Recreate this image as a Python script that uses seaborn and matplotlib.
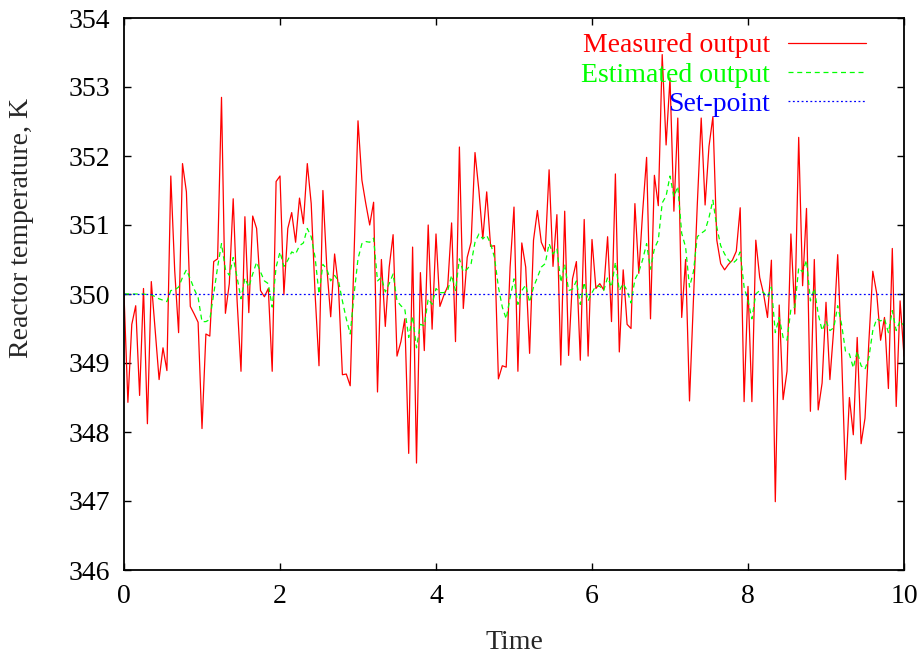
import numpy as np
import pandas as pd
import matplotlib
matplotlib.use("Agg")
import matplotlib.pyplot as plt
import seaborn as sns

# sample times, step 0.05 from 0 to 10
time = np.round(np.arange(201) * 0.05, 2)

measured = [
    350.00, 348.43, 349.56, 349.83, 348.53, 350.08, 348.12, 350.18, 349.47, 348.76,
    349.22, 348.89, 351.71, 350.34, 349.44, 351.89, 351.48, 349.82, 349.71, 349.59,
    348.05, 349.42, 349.39, 350.47, 350.51, 352.85, 349.72, 350.15, 351.38, 349.90,
    348.88, 351.12, 349.73, 351.13, 350.95, 350.05, 349.96, 350.08, 348.88, 351.63,
    351.71, 349.99, 350.95, 351.18, 350.75, 351.39, 351.02, 351.89, 351.31, 350.00,
    348.96, 351.50, 350.39, 349.67, 350.58, 350.10, 348.83, 348.84, 348.67, 350.58,
    352.51, 351.65, 351.31, 351.00, 351.33, 348.58, 350.50, 349.53, 350.39, 350.86,
    349.10, 349.31, 349.64, 347.69, 350.68, 347.55, 350.31, 349.18, 351.00, 349.49,
    350.87, 349.82, 349.98, 350.11, 351.03, 349.31, 352.13, 349.79, 350.53, 350.75,
    352.05, 351.50, 350.80, 351.48, 350.69, 350.70, 348.77, 348.96, 348.94, 350.39,
    351.26, 348.88, 350.74, 350.39, 349.14, 350.78, 351.21, 350.75, 350.62, 351.80,
    350.40, 351.15, 348.97, 351.20, 349.11, 350.22, 350.47, 349.04, 351.08, 349.10,
    350.79, 350.08, 350.15, 350.06, 350.83, 349.60, 351.74, 349.16, 350.35, 349.56,
    349.50, 351.31, 350.30, 351.20, 351.98, 349.64, 351.72, 351.28, 353.47, 352.16,
    353.13, 351.20, 352.55, 349.66, 350.50, 348.45, 349.90, 351.30, 352.55, 351.29,
    352.14, 352.57, 350.78, 350.44, 350.35, 350.43, 350.49, 350.62, 351.25, 348.44,
    350.11, 348.44, 350.78, 350.24, 350.00, 349.66, 350.49, 346.99, 349.84, 348.47,
    348.88, 350.87, 349.71, 352.27, 350.12, 351.24, 348.30, 350.50, 348.32, 348.71,
    349.88, 348.76, 349.51, 350.57, 349.13, 347.31, 348.50, 347.96, 349.37, 347.83,
    348.20, 349.32, 350.33, 350.01, 349.33, 349.66, 348.63, 350.66, 348.37, 349.90,
    349.10,
]

estimated = [
    350.00, 350.00, 350.00, 350.00, 350.00, 350.00, 349.99, 349.99, 349.96, 349.93,
    349.91, 349.89, 350.05, 350.06, 350.10, 350.24, 350.35, 350.22, 350.07, 349.95,
    349.60, 349.60, 349.63, 350.00, 350.39, 350.73, 350.36, 350.27, 350.53, 350.24,
    349.93, 350.23, 350.10, 350.29, 350.46, 350.32, 350.19, 350.15, 349.81, 350.39,
    350.61, 350.40, 350.49, 350.61, 350.58, 350.70, 350.74, 350.95, 350.83, 350.53,
    350.00, 350.43, 350.36, 350.19, 350.27, 350.19, 349.90, 349.64, 349.42, 350.00,
    350.51, 350.73, 350.76, 350.75, 350.81, 350.19, 350.24, 350.03, 350.15, 350.29,
    349.90, 349.83, 349.78, 349.37, 349.68, 349.22, 349.56, 349.54, 349.93, 349.85,
    350.08, 350.02, 350.02, 350.05, 350.27, 350.05, 350.51, 350.32, 350.36, 350.44,
    350.75, 350.87, 350.80, 350.85, 350.73, 350.53, 350.10, 349.81, 349.64, 349.95,
    350.22, 349.85, 350.05, 350.13, 349.88, 350.10, 350.24, 350.39, 350.44, 350.73,
    350.58, 350.66, 350.17, 350.43, 350.05, 350.07, 350.19, 349.85, 350.17, 349.90,
    350.02, 350.12, 350.11, 350.05, 350.24, 350.10, 350.46, 350.05, 350.15, 350.05,
    349.87, 350.21, 350.32, 350.50, 350.73, 350.36, 350.66, 350.78, 351.32, 351.42,
    351.71, 351.41, 351.56, 350.88, 350.68, 350.10, 350.32, 350.83, 350.88, 350.92,
    351.11, 351.36, 350.97, 350.70, 350.58, 350.49, 350.44, 350.49, 350.61, 350.10,
    349.90, 349.64, 350.00, 350.05, 350.02, 349.95, 350.10, 349.44, 349.66, 349.37,
    349.33, 349.78, 349.81, 350.38, 350.32, 350.49, 349.90, 350.08, 349.71, 349.47,
    349.61, 349.47, 349.51, 349.83, 349.56, 349.17, 349.13, 348.93, 349.17, 348.96,
    348.91, 349.08, 349.47, 349.64, 349.61, 349.64, 349.44, 349.76, 349.47, 349.61,
    349.54,
]

setpoint_value = 350.0
setpoint = [setpoint_value] * len(time)

x_ticks = [0, 2, 4, 6, 8, 10]
y_ticks = [346, 347, 348, 349, 350, 351, 352, 353, 354]

sns.set_style("ticks")
plt.rcParams['font.family'] = ['Liberation Serif', 'DejaVu Serif']
fs = 20
plt.rcParams['font.size'] = fs

W, H = 922, 658
fig = plt.figure(figsize=(W / 100, H / 100), dpi=100)
ax = fig.add_axes([124 / W, (H - 570) / H, 780 / W, 552 / H])

sns.lineplot(x=time, y=measured, ax=ax, color="#ff0000", linewidth=0.9,
             errorbar=None, label="Measured output")
sns.lineplot(x=time, y=estimated, ax=ax, color="#00ff00", linewidth=0.9,
             linestyle=(0, (4, 3)), errorbar=None, label="Estimated output")
sns.lineplot(x=time, y=setpoint, ax=ax, color="#0000ff", linewidth=0.9,
             linestyle=(0, (1.5, 2)), errorbar=None, label="Set-point")

ax.set_xlim(0, 10)
ax.set_ylim(346, 354)
ax.set_xticks(x_ticks)
ax.set_yticks(y_ticks)
ax.tick_params(direction="in", length=5, width=1, top=True, right=True,
               labelsize=fs, colors="black")
ax.tick_params(axis="y", pad=10)
ax.tick_params(axis="x", pad=10)
for s in ax.spines.values():
    s.set_linewidth(1.3)
    s.set_color("black")

ax.set_xlabel("Time", fontsize=fs)
ax.set_ylabel("Reactor temperature, K", fontsize=fs)
ax.xaxis.set_label_coords(0.5, -0.108)
ax.yaxis.set_label_coords(-0.115, 0.62)

handles, labels = ax.get_legend_handles_labels()
ax.legend(handles, labels, loc="upper right", bbox_to_anchor=(866 / W, (H - 33) / H),
          bbox_transform=fig.transFigure, frameon=False, markerfirst=False,
          labelcolor="linecolor", fontsize=fs, borderpad=0, borderaxespad=0,
          handlelength=2.8, handletextpad=0.65, labelspacing=0.14)

fig.savefig("out.png", dpi=100)
